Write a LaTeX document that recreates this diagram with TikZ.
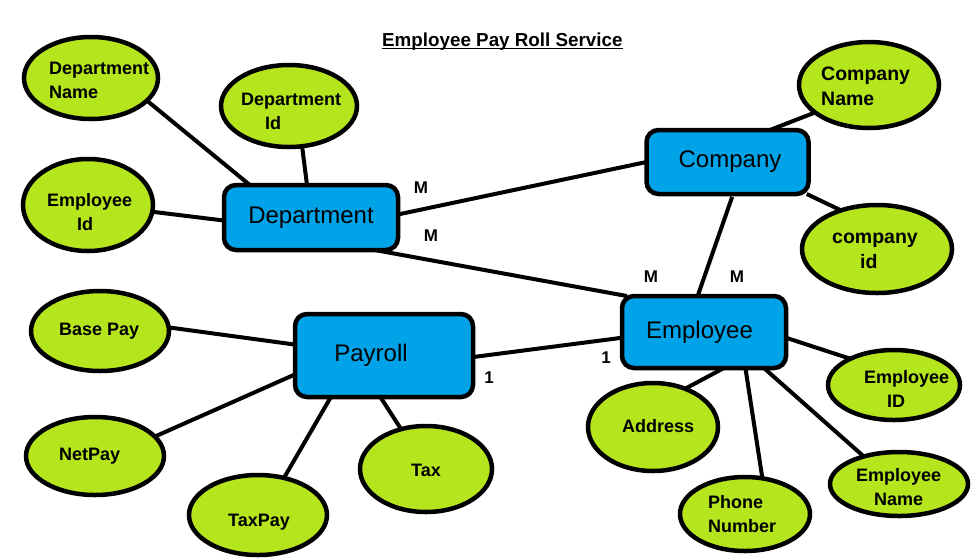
\documentclass[tikz,border=0pt]{standalone}
\usepackage{fontspec}
\setmainfont{Liberation Sans}
\usetikzlibrary{shapes.geometric,backgrounds}
\definecolor{attrgreen}{RGB}{181,230,29}
\definecolor{entblue}{RGB}{0,162,232}
\begin{document}
\begin{tikzpicture}[x=1pt,y=-1pt,
 attr/.style={ellipse,draw=black,fill=attrgreen,line width=4.5pt,inner sep=0pt,outer sep=0pt},
 entity/.style={rectangle,rounded corners=12pt,draw=black,fill=entblue,line width=4.5pt,inner sep=0pt,outer sep=0pt,font=\fontsize{24}{28}\selectfont},
 atxt/.style={inner sep=0pt,font=\fontsize{18}{24}\selectfont\bfseries,align=left},
 ctxt/.style={inner sep=0pt,font=\fontsize{19.5}{25}\selectfont\bfseries,align=left},
 card/.style={inner sep=0pt,font=\fontsize{17}{20}\selectfont\bfseries},
 conn/.style={line width=4pt}]
\useasboundingbox (0,0) rectangle (974,558);

% title
\node[inner sep=0pt,anchor=base west,font=\fontsize{18.8}{22}\selectfont\bfseries] (title) at (382,46) {Employee Pay Roll Service};
\draw[line width=1.6pt] ([yshift=-2.5pt]title.base west) -- ([yshift=-2.5pt]title.base east);

% entities
\node[entity,minimum width=174pt,minimum height=65pt] (dept) at (311,217.5) {Department};
\node[entity,minimum width=162pt,minimum height=64pt] (comp) at (727.5,162) {\hspace*{5pt}Company};
\node[entity,minimum width=164pt,minimum height=72pt] (emp) at (704,332) {Employee\hspace*{9pt}};
\node[entity,minimum width=178pt,minimum height=83pt] (pay) at (384,355.5) {Payroll\hspace*{26pt}};

% attributes
\node[attr,minimum width=134pt,minimum height=82pt] (dname) at (91,78) {};
\node[attr,minimum width=136pt,minimum height=82pt] (did) at (289,106) {};
\node[attr,minimum width=130pt,minimum height=92pt] (deid) at (88,205) {};
\node[attr,minimum width=140pt,minimum height=86pt] (cname) at (869,85) {};
\node[attr,minimum width=150pt,minimum height=88pt] (cid) at (877,249) {};
\node[attr,minimum width=132pt,minimum height=70pt] (eid) at (894,385) {};
\node[attr,minimum width=130pt,minimum height=88pt] (addr) at (653,427) {};
\node[attr,minimum width=130pt,minimum height=74pt] (phone) at (745,514) {};
\node[attr,minimum width=138pt,minimum height=64pt] (ename) at (899,484) {};
\node[attr,minimum width=138pt,minimum height=80pt] (base) at (100,331) {};
\node[attr,minimum width=138pt,minimum height=78pt] (net) at (95,456) {};
\node[attr,minimum width=138pt,minimum height=80pt] (taxpay) at (258,515) {};
\node[attr,minimum width=132pt,minimum height=86pt] (tax) at (426,469) {};

% attribute texts
\node[atxt,anchor=north west] (dnameT) at (49,62) {Department\\Name};
\node[atxt,anchor=north west] (didT) at (241,93) {Department\\\hspace*{24pt}Id};
\node[atxt,anchor=north west] (deidT) at (47,193) {Employee\\\hspace*{30pt}Id};
\node[ctxt,anchor=north west] (cnameT) at (821,67) {Company\\Name};
\node[ctxt,anchor=north west] (cidT) at (832,233) {company\\\hspace*{28pt}id};
\node[atxt,anchor=north west] (eidT) at (864,370) {Employee\\\hspace*{23pt}ID};
\node[atxt,anchor=north west] (phoneT) at (708,495) {Phone\\Number};
\node[atxt,anchor=north west] (enameT) at (856,468) {Employee\\\hspace*{18pt}Name};
\node[atxt,anchor=base west] (addrT) at (622,432) {Address};
\node[atxt,anchor=base west] (baseT) at (59,335) {Base Pay};
\node[atxt,anchor=base west] (netT) at (59,460) {NetPay};
\node[atxt,anchor=base west] (taxpayT) at (228,526) {TaxPay};
\node[atxt,anchor=base west] (taxT) at (411,476) {Tax};

% connectors and page background
\begin{scope}[on background layer]
\fill[white] (0,0) rectangle (974,558);
\draw[conn] (dname.-22) -- (dept.152);
\draw[conn] (did.-72) -- (dept.97);
\draw[conn] (deid.-6) -- (dept.-178);
\draw[conn] (dept.2) -- (comp.180);
\draw[conn] (dept.-27) -- (emp.155);
\draw[conn] (comp.37) -- (cname.-153);
\draw[conn] (comp.-22) -- (cid.133);
\draw[conn,shorten <=3pt] (comp.-80) -- (emp.100);
\draw[conn] (emp.-4) -- (eid.149);
\draw[conn] (emp.-61) -- (addr.50);
\draw[conn] (emp.-41.5) -- (phone.64);
\draw[conn] (emp.-31) -- (ename.142);
\draw[conn] (pay.-1) -- (emp.-176);
\draw[conn] (base.3) -- (pay.173);
\draw[conn] (net.18) -- (pay.-168);
\draw[conn] (taxpay.55) -- (pay.-142);
\draw[conn] (tax.122) -- (pay.-95);
\end{scope}

% cardinalities
\node[card] (m1) at (421,188) {M};
\node[card] (m2) at (431,236) {M};
\node[card] (m3) at (651,277) {M};
\node[card] (m4) at (737,277) {M};
\node[card] (o1) at (606,358) {1};
\node[card] (o2) at (489,378) {1};
\end{tikzpicture}
\end{document}
